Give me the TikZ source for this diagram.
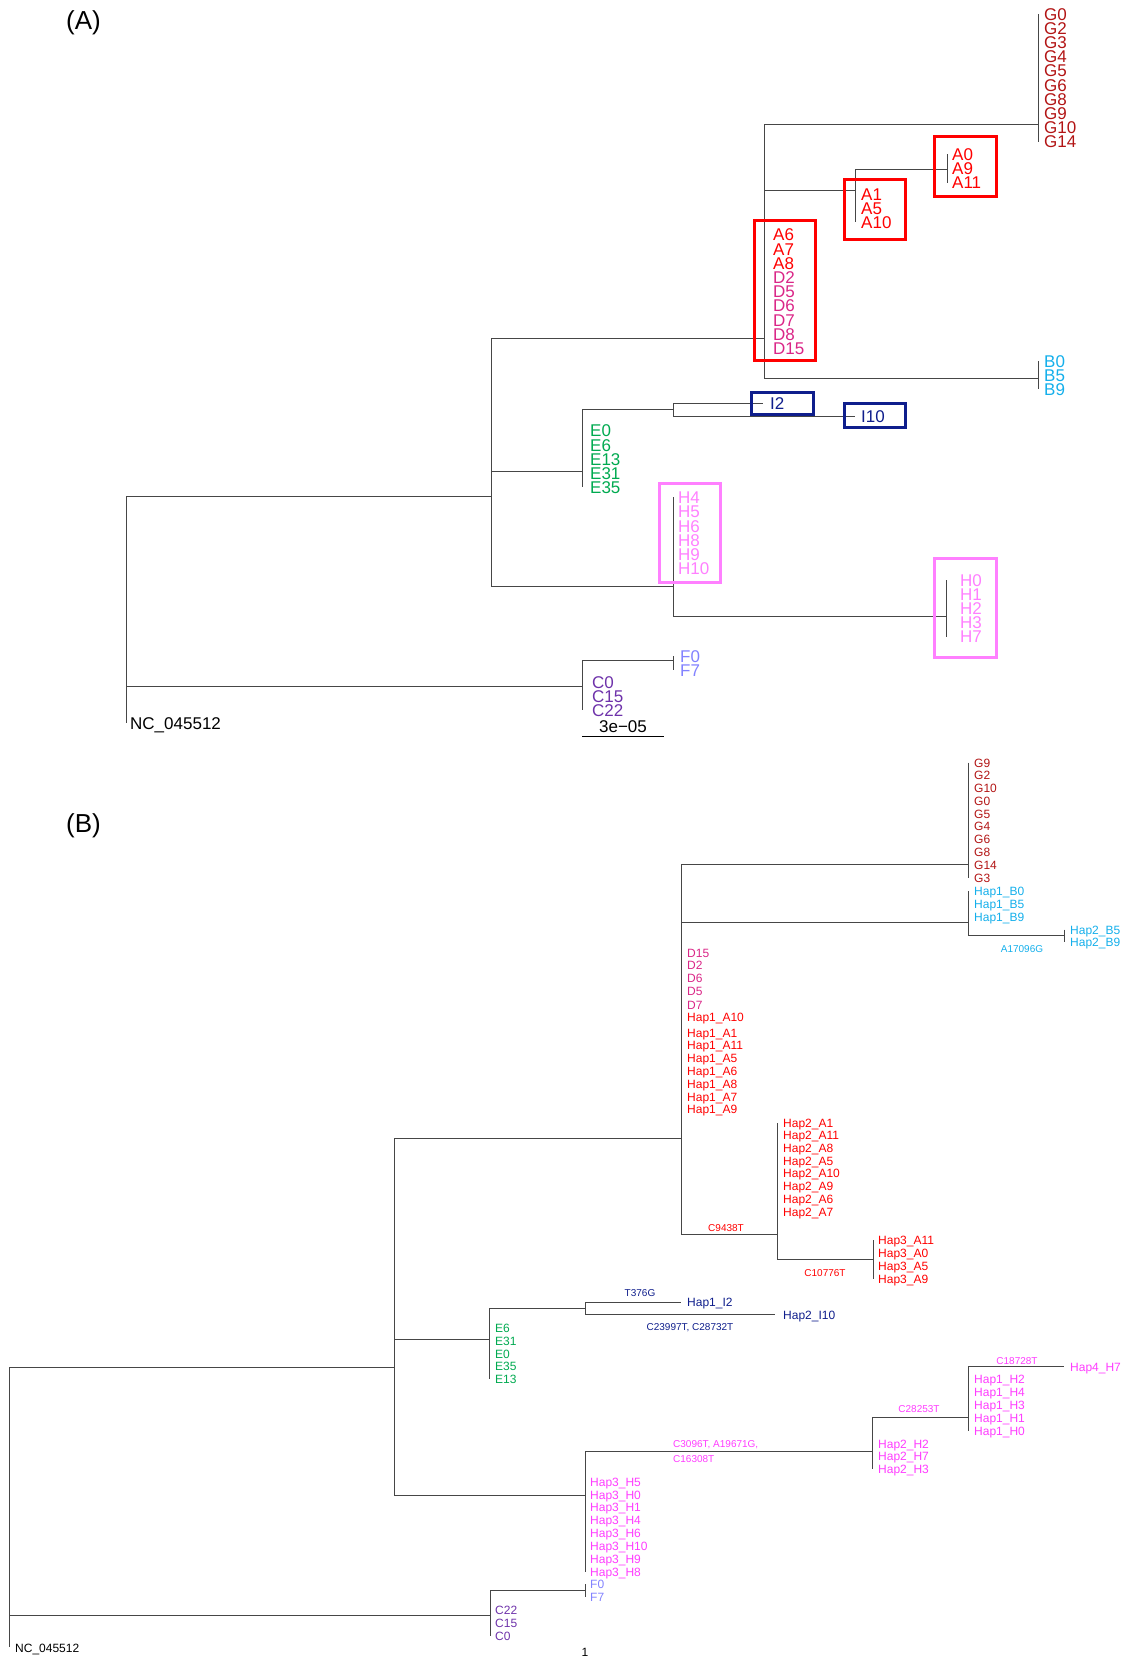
\documentclass[tikz,border=0pt]{standalone}
\usepackage{fontspec}
\setmainfont{Liberation Sans}
\definecolor{edge}{RGB}{70,70,70}
\definecolor{colG}{RGB}{178,20,20}
\definecolor{colA}{RGB}{255,0,0}
\definecolor{colD}{RGB}{218,38,135}
\definecolor{colB}{RGB}{20,175,235}
\definecolor{colE}{RGB}{0,170,80}
\definecolor{colI}{RGB}{15,30,140}
\definecolor{colH}{RGB}{255,128,255}
\definecolor{colHB}{RGB}{255,60,255}
\definecolor{colF}{RGB}{130,130,255}
\definecolor{colC}{RGB}{110,50,170}
\begin{document}
\begin{tikzpicture}[x = 1pt, y = -1pt,
	branch/.style = {draw = edge, line width = 1pt},
	clade/.style = {line width = 3pt},
	panel/.style = {anchor = west, inner sep = 0pt, font = \fontsize{26}{26}\selectfont, text height = 18.7pt, text depth = 0pt},
	tipA/.style = {anchor = west, inner sep = 0pt, font = \fontsize{17}{17}\selectfont, text height = 12.2pt, text depth = 0pt},
	tipB/.style = {anchor = west, inner sep = 0pt, font = \fontsize{12}{12}\selectfont, text height = 8.6pt, text depth = 0pt},
	mut/.style = {inner sep = 0pt, font = \fontsize{10}{10}\selectfont, text height = 7.2pt, text depth = 0pt}]
		\useasboundingbox (0,0) rectangle (1126,1660);
		\node [panel](a_title) at (66,20) {(A)};
		\node [tipA, colG](a_G0) at (1044,14.3) {G0};
		\node [tipA, colG](a_G2) at (1044,28.4) {G2};
		\node [tipA, colG](a_G3) at (1044,42.5) {G3};
		\node [tipA, colG](a_G4) at (1044,56.7) {G4};
		\node [tipA, colG](a_G5) at (1044,70.8) {G5};
		\node [tipA, colG](a_G6) at (1044,85) {G6};
		\node [tipA, colG](a_G8) at (1044,99.1) {G8};
		\node [tipA, colG](a_G9) at (1044,113.3) {G9};
		\node [tipA, colG](a_G10) at (1044,127.4) {G10};
		\node [tipA, colG](a_G14) at (1044,141.6) {G14};
		\node [tipA, colA](a_A0) at (952,154) {A0};
		\node [tipA, colA](a_A9) at (952,168.3) {A9};
		\node [tipA, colA](a_A11) at (952,182.7) {A11};
		\node [tipA, colA](a_A1) at (861,194.3) {A1};
		\node [tipA, colA](a_A5) at (861,208.3) {A5};
		\node [tipA, colA](a_A10) at (861,222) {A10};
		\node [tipA, colA](a_A6) at (773,234.7) {A6};
		\node [tipA, colA](a_A7) at (773,248.9) {A7};
		\node [tipA, colA](a_A8) at (773,263.1) {A8};
		\node [tipA, colD](a_D2) at (773,277.3) {D2};
		\node [tipA, colD](a_D5) at (773,291.5) {D5};
		\node [tipA, colD](a_D6) at (773,305.7) {D6};
		\node [tipA, colD](a_D7) at (773,319.9) {D7};
		\node [tipA, colD](a_D8) at (773,334.1) {D8};
		\node [tipA, colD](a_D15) at (773,348.3) {D15};
		\node [tipA, colB](a_B0) at (1044,361) {B0};
		\node [tipA, colB](a_B5) at (1044,375) {B5};
		\node [tipA, colB](a_B9) at (1044,389) {B9};
		\node [tipA, colI](a_I2) at (770,403) {I2};
		\node [tipA, colI](a_I10) at (861,416) {I10};
		\node [tipA, colE](a_E0) at (590,430.7) {E0};
		\node [tipA, colE](a_E6) at (590,444.9) {E6};
		\node [tipA, colE](a_E13) at (590,459) {E13};
		\node [tipA, colE](a_E31) at (590,473.2) {E31};
		\node [tipA, colE](a_E35) at (590,487.3) {E35};
		\node [tipA, colH](a_H4) at (678,497.3) {H4};
		\node [tipA, colH](a_H5) at (678,511.6) {H5};
		\node [tipA, colH](a_H6) at (678,525.9) {H6};
		\node [tipA, colH](a_H8) at (678,540.2) {H8};
		\node [tipA, colH](a_H9) at (678,554.5) {H9};
		\node [tipA, colH](a_H10) at (678,568.8) {H10};
		\node [tipA, colH](a_H0) at (960,580) {H0};
		\node [tipA, colH](a_H1) at (960,594.2) {H1};
		\node [tipA, colH](a_H2) at (960,608.4) {H2};
		\node [tipA, colH](a_H3) at (960,622.6) {H3};
		\node [tipA, colH](a_H7) at (960,636.8) {H7};
		\node [tipA, colF](a_F0) at (680,656) {F0};
		\node [tipA, colF](a_F7) at (680,670) {F7};
		\node [tipA, colC](a_C0) at (592,682) {C0};
		\node [tipA, colC](a_C15) at (592,696) {C15};
		\node [tipA, colC](a_C22) at (592,710) {C22};
		\node [tipA](a_NC) at (130,723) {NC\_045512};
		\node [tipA, anchor = center](a_scale) at (623,726) {3e−05};
		\coordinate (a_root) at (126,496);
		\coordinate (a_n1) at (491,496);
		\coordinate (a_n2) at (764,338);
		\coordinate (a_nG) at (1038,124);
		\coordinate (a_nA1) at (855,190);
		\coordinate (a_nA0) at (947,169);
		\coordinate (a_nB) at (1038,378);
		\coordinate (a_nE) at (582,471);
		\coordinate (a_nI) at (673,409);
		\coordinate (a_tI2) at (763,403);
		\coordinate (a_tI10) at (855,416);
		\coordinate (a_nH) at (673,586);
		\coordinate (a_nH0) at (946,616);
		\coordinate (a_nCF) at (582,686);
		\coordinate (a_nF) at (673,660);
		\coordinate (a_tNC) at (126,723);
		\coordinate (a_bar0) at (582,736);
		\coordinate (a_bar1) at (664,736);
		\draw [branch] (a_root) |- (a_n1);
		\draw [branch] (a_root) |- (a_nCF);
		\draw [branch] (a_root) -- (a_tNC);
		\draw [branch] (a_n1) |- (a_n2);
		\draw [branch] (a_n1) |- (a_nE);
		\draw [branch] (a_n1) |- (a_nH);
		\draw [branch] (a_n2) |- (a_nG);
		\draw [branch] (a_n2) |- (a_nA1);
		\draw [branch] (a_n2) |- (a_nB);
		\draw [branch] (a_nG |- a_G0) -- (a_nG |- a_G14);
		\draw [branch] (a_nA1) |- (a_nA0);
		\draw [branch] (a_nA1) -- (a_nA1 |- a_A10);
		\draw [branch] (a_nA0 |- a_A0) -- (a_nA0 |- a_A11);
		\draw [branch] (a_nB |- a_B0) -- (a_nB |- a_B9);
		\draw [branch] (a_nE) |- (a_nI);
		\draw [branch] (a_nE) -- (a_nE |- a_E35);
		\draw [branch] (a_nI) |- (a_tI2);
		\draw [branch] (a_nI) |- (a_tI10);
		\draw [branch] (a_nH) -- (a_nH |- a_H4);
		\draw [branch] (a_nH) |- (a_nH0);
		\draw [branch] (a_nH0 |- a_H0) -- (a_nH0 |- a_H7);
		\draw [branch] (a_nCF) |- (a_nF);
		\draw [branch] (a_nCF) -- (a_nCF |- a_C22);
		\draw [branch] (a_nF |- a_F0) -- (a_nF |- a_F7);
		\draw [line width = 1pt] (a_bar0) -- (a_bar1);
		\draw [clade, colA] (934,136) rectangle (996,196);
		\draw [clade, colA] (844,179) rectangle (905,239);
		\draw [clade, colA] (754,220) rectangle (815,360);
		\draw [clade, colI] (751,392) rectangle (813,414);
		\draw [clade, colI] (844,403) rectangle (905,427);
		\draw [clade, colH] (659,483) rectangle (720,582);
		\draw [clade, colH] (934,558) rectangle (996,657);
		\node [panel](b_title) at (66,823) {(B)};
		\node [tipB, colG](b_G9) at (974,762.7) {G9};
		\node [tipB, colG](b_G2) at (974,775.5) {G2};
		\node [tipB, colG](b_G10) at (974,788.2) {G10};
		\node [tipB, colG](b_G0) at (974,801) {G0};
		\node [tipB, colG](b_G5) at (974,813.8) {G5};
		\node [tipB, colG](b_G4) at (974,826.6) {G4};
		\node [tipB, colG](b_G6) at (974,839.4) {G6};
		\node [tipB, colG](b_G8) at (974,852.1) {G8};
		\node [tipB, colG](b_G14) at (974,864.9) {G14};
		\node [tipB, colG](b_G3) at (974,877.7) {G3};
		\node [tipB, colB](b_B10) at (974,891.3) {Hap1\_B0};
		\node [tipB, colB](b_B15) at (974,904) {Hap1\_B5};
		\node [tipB, colB](b_B19) at (974,916.7) {Hap1\_B9};
		\node [tipB, colB](b_B25) at (1070,929.7) {Hap2\_B5};
		\node [tipB, colB](b_B29) at (1070,942.3) {Hap2\_B9};
		\node [mut, colB](b_mB) at (1022,949) {A17096G};
		\node [tipB, colD](b_D15) at (687,952.7) {D15};
		\node [tipB, colD](b_D2) at (687,965.5) {D2};
		\node [tipB, colD](b_D6) at (687,978.5) {D6};
		\node [tipB, colD](b_D5) at (687,991.5) {D5};
		\node [tipB, colD](b_D7) at (687,1004.7) {D7};
		\node [tipB, colA](b_A110) at (687,1017.3) {Hap1\_A10};
		\node [tipB, colA](b_A11) at (687,1032.7) {Hap1\_A1};
		\node [tipB, colA](b_A111) at (687,1045.3) {Hap1\_A11};
		\node [tipB, colA](b_A15) at (687,1058) {Hap1\_A5};
		\node [tipB, colA](b_A16) at (687,1071) {Hap1\_A6};
		\node [tipB, colA](b_A18) at (687,1083.7) {Hap1\_A8};
		\node [tipB, colA](b_A17) at (687,1096.7) {Hap1\_A7};
		\node [tipB, colA](b_A19) at (687,1109.3) {Hap1\_A9};
		\node [tipB, colA](b_A21) at (783,1122.7) {Hap2\_A1};
		\node [tipB, colA](b_A211) at (783,1135.4) {Hap2\_A11};
		\node [tipB, colA](b_A28) at (783,1148.1) {Hap2\_A8};
		\node [tipB, colA](b_A25) at (783,1160.8) {Hap2\_A5};
		\node [tipB, colA](b_A210) at (783,1173.6) {Hap2\_A10};
		\node [tipB, colA](b_A29) at (783,1186.3) {Hap2\_A9};
		\node [tipB, colA](b_A26) at (783,1199) {Hap2\_A6};
		\node [tipB, colA](b_A27) at (783,1211.7) {Hap2\_A7};
		\node [mut, colA](b_mA2) at (726,1228) {C9438T};
		\node [tipB, colA](b_A311) at (878,1240) {Hap3\_A11};
		\node [tipB, colA](b_A30) at (878,1253) {Hap3\_A0};
		\node [tipB, colA](b_A35) at (878,1266) {Hap3\_A5};
		\node [tipB, colA](b_A39) at (878,1279) {Hap3\_A9};
		\node [mut, colA](b_mA3) at (825,1273) {C10776T};
		\node [mut, colI](b_mI2) at (640,1293) {T376G};
		\node [tipB, colI](b_I2) at (687,1302) {Hap1\_I2};
		\node [tipB, colI](b_I10) at (783,1315) {Hap2\_I10};
		\node [mut, colI](b_mI10) at (690,1327) {C23997T, C28732T};
		\node [tipB, colE](b_E6) at (495,1328.3) {E6};
		\node [tipB, colE](b_E31) at (495,1341) {E31};
		\node [tipB, colE](b_E0) at (495,1353.7) {E0};
		\node [tipB, colE](b_E35) at (495,1366.5) {E35};
		\node [tipB, colE](b_E13) at (495,1379.3) {E13};
		\node [mut, colHB](b_mH4) at (1017,1361) {C18728T};
		\node [tipB, colHB](b_H47) at (1070,1367) {Hap4\_H7};
		\node [tipB, colHB](b_H12) at (974,1379.3) {Hap1\_H2};
		\node [tipB, colHB](b_H14) at (974,1392.2) {Hap1\_H4};
		\node [tipB, colHB](b_H13) at (974,1405) {Hap1\_H3};
		\node [tipB, colHB](b_H11) at (974,1417.8) {Hap1\_H1};
		\node [tipB, colHB](b_H10) at (974,1430.7) {Hap1\_H0};
		\node [mut, colHB](b_mH1) at (919,1409) {C28253T};
		\node [mut, colHB, anchor = west](b_mH2a) at (673,1444) {C3096T, A19671G,};
		\node [mut, colHB, anchor = west](b_mH2b) at (673,1459) {C16308T};
		\node [tipB, colHB](b_H22) at (878,1443.7) {Hap2\_H2};
		\node [tipB, colHB](b_H27) at (878,1456.3) {Hap2\_H7};
		\node [tipB, colHB](b_H23) at (878,1469) {Hap2\_H3};
		\node [tipB, colHB](b_H35) at (590,1482) {Hap3\_H5};
		\node [tipB, colHB](b_H30) at (590,1494.8) {Hap3\_H0};
		\node [tipB, colHB](b_H31) at (590,1507.6) {Hap3\_H1};
		\node [tipB, colHB](b_H34) at (590,1520.4) {Hap3\_H4};
		\node [tipB, colHB](b_H36) at (590,1533.3) {Hap3\_H6};
		\node [tipB, colHB](b_H310) at (590,1546.1) {Hap3\_H10};
		\node [tipB, colHB](b_H39) at (590,1558.9) {Hap3\_H9};
		\node [tipB, colHB](b_H38) at (590,1571.7) {Hap3\_H8};
		\node [tipB, colF](b_F0) at (590,1584) {F0};
		\node [tipB, colF](b_F7) at (590,1597) {F7};
		\node [tipB, colC](b_C22) at (495,1610) {C22};
		\node [tipB, colC](b_C15) at (495,1623) {C15};
		\node [tipB, colC](b_C0) at (495,1636) {C0};
		\node [tipB](b_NC) at (15,1648) {NC\_045512};
		\node [tipB, anchor = center](b_scale) at (585,1652) {1};
		\coordinate (b_root) at (9.5,1367);
		\coordinate (b_n1) at (394,1367);
		\coordinate (b_nA) at (681,1138);
		\coordinate (b_nG) at (968,864);
		\coordinate (b_nB) at (968,922);
		\coordinate (b_nB2) at (1064,935);
		\coordinate (b_nA2) at (777,1234);
		\coordinate (b_nA3) at (873,1259);
		\coordinate (b_nE) at (489,1339);
		\coordinate (b_nI) at (585,1308);
		\coordinate (b_tI2) at (681,1302);
		\coordinate (b_tI10) at (775,1314);
		\coordinate (b_nH) at (585,1495);
		\coordinate (b_nH2) at (872,1451);
		\coordinate (b_nH1) at (968,1417);
		\coordinate (b_tH7) at (1064,1366);
		\coordinate (b_nC) at (490,1615);
		\coordinate (b_nF) at (585,1590);
		\coordinate (b_tNC) at (9.5,1647);
		\draw [branch] (b_root) |- (b_n1);
		\draw [branch] (b_root) |- (b_nC);
		\draw [branch] (b_root) -- (b_tNC);
		\draw [branch] (b_n1) |- (b_nA);
		\draw [branch] (b_n1) |- (b_nE);
		\draw [branch] (b_n1) |- (b_nH);
		\draw [branch] (b_nA) |- (b_nG);
		\draw [branch] (b_nA) |- (b_nB);
		\draw [branch] (b_nA) |- (b_nA2);
		\draw [branch] (b_nG |- b_G9) -- (b_nG |- b_G3);
		\draw [branch] (b_nB) -- (b_nB |- b_B10);
		\draw [branch] (b_nB) |- (b_nB2);
		\draw [branch] (b_nB2 |- b_B25) -- (b_nB2 |- b_B29);
		\draw [branch] (b_nA2) -- (b_nA2 |- b_A21);
		\draw [branch] (b_nA2) |- (b_nA3);
		\draw [branch] (b_nA3 |- b_A311) -- (b_nA3 |- b_A39);
		\draw [branch] (b_nE) |- (b_nI);
		\draw [branch] (b_nE) -- (b_nE |- b_E13);
		\draw [branch] (b_nI) |- (b_tI2);
		\draw [branch] (b_nI) |- (b_tI10);
		\draw [branch] (b_nH) |- (b_nH2);
		\draw [branch] (b_nH) -- (b_nH |- b_H38);
		\draw [branch] (b_nH2) |- (b_nH1);
		\draw [branch] (b_nH2) -- (b_nH2 |- b_H23);
		\draw [branch] (b_nH1) |- (b_tH7);
		\draw [branch] (b_nH1) -- (b_nH1 |- b_H10);
		\draw [branch] (b_nC) |- (b_nF);
		\draw [branch] (b_nC) -- (b_nC |- b_C0);
		\draw [branch] (b_nF |- b_F0) -- (b_nF |- b_F7);
\end{tikzpicture}
\end{document}
